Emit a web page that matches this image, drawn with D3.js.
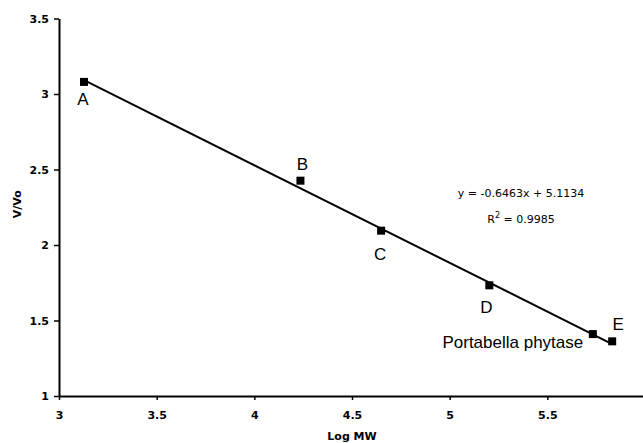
<!DOCTYPE html>
<html><head><meta charset="utf-8">
<script src="https://cdn.jsdelivr.net/npm/d3@7"></script>
<style>body{margin:0;background:#fff}svg{display:block}</style>
</head><body>
<script>
const labels = ["A","B","C","D","Portabella phytase","E"];
const logMW = [3.128, 4.236, 4.649, 5.203, 5.733, 5.832];
const vvo = [3.08, 2.426, 2.095, 1.733, 1.41, 1.362];
const xTicks = [3, 3.5, 4, 4.5, 5, 5.5, 6];
const yTicks = [1, 1.5, 2, 2.5, 3, 3.5];
const slope = -0.6463, intercept = 5.1134;
const eqText = "y = -0.6463x + 5.1134";
const r2Value = "0.9985";

const W = 643, H = 443;
const svg = d3.select("body").append("svg").attr("width", W).attr("height", H);
const x = d3.scaleLinear().domain([3, 6]).range([59, 645]);
const y = d3.scaleLinear().domain([1, 3.5]).range([396, 18.5]);

const tickFont = "'DejaVu Sans', Verdana, sans-serif";

const xAxis = svg.append("g").attr("transform", `translate(0,${y(1)})`)
  .call(d3.axisBottom(x).tickValues(xTicks).tickSize(4).tickSizeOuter(0).tickPadding(11)
    .tickFormat(d => d >= 6 ? "" : d3.format("")(d)));
const yAxis = svg.append("g").attr("transform", `translate(${x(3)},0)`)
  .call(d3.axisLeft(y).tickValues(yTicks).tickSize(5).tickSizeOuter(0).tickPadding(5)
    .tickFormat(d => d3.format("")(d)));
[xAxis, yAxis].forEach(g => {
  g.select(".domain").attr("stroke", "#000").attr("stroke-width", 2);
  g.selectAll(".tick line").attr("stroke", "#000").attr("stroke-width", 1.5);
  g.selectAll(".tick text").attr("fill", "#000")
    .style("font-family", tickFont).style("font-weight", "bold").style("font-size", "11px");
});

svg.append("text").attr("x", 352).attr("y", 440).attr("text-anchor", "middle")
  .style("font-family", tickFont).style("font-weight", "bold").style("font-size", "11px")
  .text("Log MW");
svg.append("text").attr("transform", `translate(21,${y(2.27)}) rotate(-90)`).attr("text-anchor", "middle")
  .style("font-family", tickFont).style("font-weight", "bold").style("font-size", "11px")
  .text("V/Vo");

// regression line
const x0 = d3.min(logMW), x1 = d3.max(logMW);
svg.append("line")
  .attr("x1", x(x0)).attr("y1", y(slope * x0 + intercept))
  .attr("x2", x(x1)).attr("y2", y(slope * x1 + intercept))
  .attr("stroke", "#000").attr("stroke-width", 2);

const data = labels.map((l, i) => ({ l, x: logMW[i], y: vvo[i] }));
svg.selectAll("rect.pt").data(data).enter().append("rect").attr("class", "pt")
  .attr("x", d => x(d.x) - 4).attr("y", d => y(d.y) - 4)
  .attr("width", 8).attr("height", 8).attr("fill", "#000");

// point labels: offsets [dx, dy]
const offs = { "A": [-1, 23], "B": [2, -11], "C": [-1, 29], "D": [-3, 28], "E": [6, -11], "Portabella phytase": [-80, 14] };
svg.selectAll("text.lbl").data(data).enter().append("text").attr("class", "lbl")
  .attr("x", d => x(d.x) + offs[d.l][0]).attr("y", d => y(d.y) + offs[d.l][1])
  .attr("text-anchor", "middle")
  .style("font-family", "'Liberation Sans', Arial, Helvetica, sans-serif").style("font-size", "17px")
  .attr("fill", "#000")
  .text(d => d.l);

const eq = svg.append("g").style("font-family", tickFont).style("font-size", "11px").attr("fill", "#000");
eq.append("text").attr("x", 521).attr("y", 197).attr("text-anchor", "middle").text(eqText);
const r2 = eq.append("text").attr("x", 521).attr("y", 223).attr("text-anchor", "middle");
r2.append("tspan").text("R");
r2.append("tspan").attr("dy", -5).style("font-size", "8px").text("2");
r2.append("tspan").attr("dy", 5).text(" = " + r2Value);
</script>
</body></html>
